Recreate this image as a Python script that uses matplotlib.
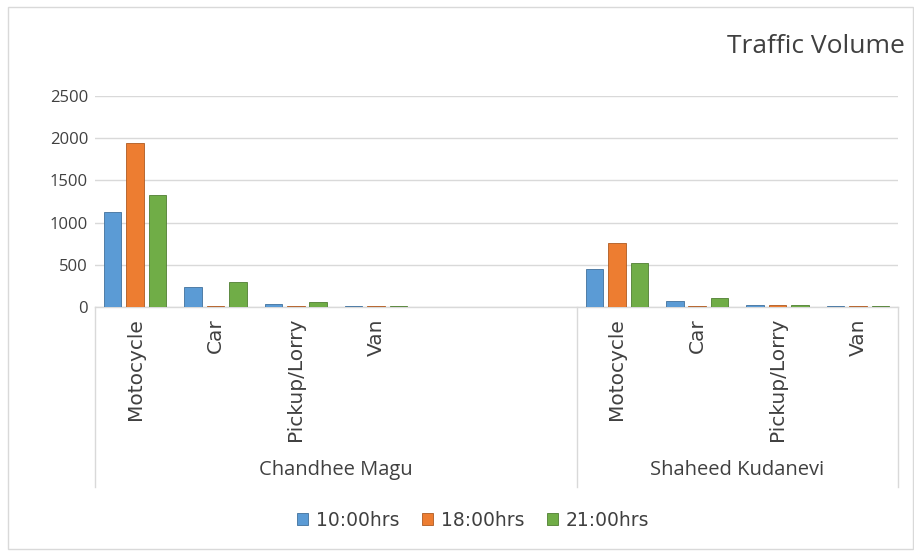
import numpy as np
import matplotlib.pyplot as plt
from matplotlib.patches import Patch, Rectangle
from matplotlib.transforms import blended_transform_factory

# data
groups = ["Chandhee Magu", "Shaheed Kudanevi"]
vehicles = ["Motocycle", "Car", "Pickup/Lorry", "Van"]
series_names = ["10:00hrs", "18:00hrs", "21:00hrs"]
chandhee_10 = [1130, 240, 40, 15]
chandhee_18 = [1940, 15, 15, 15]
chandhee_21 = [1325, 295, 60, 15]
shaheed_10 = [455, 75, 18, 15]
shaheed_18 = [760, 12, 18, 15]
shaheed_21 = [525, 110, 18, 15]
yticks = [0, 500, 1000, 1500, 2000, 2500]

colors = ["#5B9BD5", "#ED7D31", "#70AD47"]
edges = ["#41719C", "#AE5A21", "#507E32"]

W, H = 914, 553
fig = plt.figure(figsize=(W / 100, H / 100), dpi=100)
fig.patch.set_facecolor("white")

# outer chart border
fig.add_artist(Rectangle((8 / W, 1 - 549 / H), (913 - 8) / W, (549 - 7) / H,
                         transform=fig.transFigure, fill=False,
                         edgecolor="#D9D9D9", lw=1))

ax_l, ax_r, ax_top, ax_bot = 95, 898, 96, 307
ax = fig.add_axes([ax_l / W, 1 - ax_bot / H, (ax_r - ax_l) / W, (ax_bot - ax_top) / H])

# slot layout: group 1 uses 6 slots (2 empty), group 2 uses 4
n_slots = 10
chandhee_x = np.arange(4)
shaheed_x = np.arange(4) + 6
all_x = np.concatenate([chandhee_x, shaheed_x])
series = [chandhee_10 + shaheed_10, chandhee_18 + shaheed_18, chandhee_21 + shaheed_21]

bw = 0.218
off = 0.28
for i, vals in enumerate(series):
    ax.bar(all_x + (i - 1) * off, vals, width=bw, color=colors[i],
           edgecolor=edges[i], linewidth=0.6, zorder=3)

ax.set_xlim(-0.5, n_slots - 0.5)
ax.set_ylim(0, 2500)
ax.set_yticks(yticks)
ax.set_yticklabels([str(v) for v in yticks], fontsize=12, family="Open Sans", color="#404040")
ax.yaxis.grid(True, color="#D9D9D9", lw=1, zorder=0)
ax.tick_params(axis="y", length=0, pad=5)

ax.set_xticks(all_x)
ax.set_xticklabels(vehicles + vehicles, rotation=90, fontsize=14.5,
                   family="DejaVu Sans", color="#404040", va="top", ha="center")
ax.tick_params(axis="x", length=0, pad=8)

for s in ["top", "right", "left"]:
    ax.spines[s].set_visible(False)
ax.spines["bottom"].set_color("#D9D9D9")
ax.spines["bottom"].set_linewidth(1)

trans = blended_transform_factory(ax.transData, ax.transAxes)
y_low = (ax_bot - 487) / (ax_bot - ax_top)
for xb in [-0.5, 5.5, 9.5]:
    ax.plot([xb, xb], [0, y_low], transform=trans, color="#D9D9D9", lw=1, clip_on=False)

y_grp = (ax_bot - 470) / (ax_bot - ax_top)
ax.text(2.5, y_grp, groups[0], transform=trans, ha="center", va="center",
        fontsize=14.5, family="Open Sans", color="#404040")
ax.text(7.5, y_grp, groups[1], transform=trans, ha="center", va="center",
        fontsize=14.5, family="Open Sans", color="#404040")

fig.text(905 / W, 1 - 47 / H, "Traffic Volume", ha="right", va="center",
         fontsize=19, family="Open Sans", color="#404040")

handles = [Patch(facecolor=colors[i], edgecolor=edges[i], lw=0.6) for i in range(3)]
fig.legend(handles, series_names, loc="center", bbox_to_anchor=(473 / W, 1 - 520 / H),
           ncol=3, frameon=False, handlelength=0.6, handleheight=0.6, handletextpad=0.4,
           columnspacing=1.2, prop={"family": "DejaVu Sans", "size": 13.5})
for t in fig.legends[0].get_texts():
    t.set_color("#404040")

fig.savefig("out.png", dpi=100)
